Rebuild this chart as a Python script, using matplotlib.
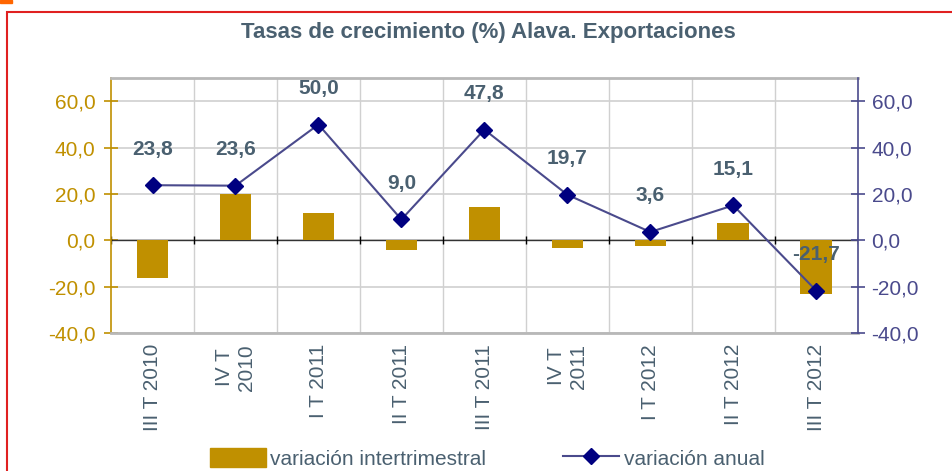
import matplotlib.pyplot as plt
import matplotlib.patches as mpatches
from matplotlib.lines import Line2D
import numpy as np

plt.rcParams['font.family'] = ['Liberation Sans', 'DejaVu Sans']

# datos
trimestres = ["III T 2010", "IV T\n2010", "I T 2011", "II T 2011", "III T 2011",
              "IV T\n2011", "I T 2012", "II T 2012", "III T 2012"]
var_intertrimestral = [-16.3, 20.2, 12.0, -4.3, 14.2, -3.3, -2.3, 7.3, -23.1]
var_anual = [23.8, 23.6, 50.0, 9.0, 47.8, 19.7, 3.6, 15.1, -21.7]
yticks = [-40, -20, 0, 20, 40, 60]

oro = '#c09000'
azul = '#4a4a8c'
marino = '#000080'
gris_texto = '#4a6070'

x = np.arange(len(trimestres))
fronteras = np.arange(len(trimestres) + 1) - 0.5

fig = plt.figure(figsize=(9.53, 4.71), dpi=100)
ax = fig.add_axes([0.1165, 0.293, 0.7835, 0.541])
ax2 = ax.twinx()

# rejilla vertical entre trimestres y marcas sobre el cero
for f in fronteras[1:-1]:
    ax.axvline(f, color='#d0d0d0', lw=1, zorder=0)
ax.axhline(0, color='#333333', lw=1, zorder=1)
ax.vlines(fronteras, -1.7, 1.7, color='black', lw=1, zorder=1)

ax.bar(x, var_intertrimestral, width=0.38, color=oro, zorder=2)
ax.set_xlim(-0.5, len(trimestres) - 0.5)
ax.set_ylim(-40, 70)
ax2.set_ylim(-40, 70)

ax2.plot(x, var_anual, color=azul, lw=1.5, marker='D', ms=8,
         mfc=marino, mec=marino, zorder=3)
for xi, v in zip(x, var_anual):
    ax2.annotate(f"{v:.1f}".replace('.', ','), (xi, v), xytext=(0, 26),
                 textcoords='offset points', ha='center', va='center',
                 fontsize=15, fontweight='bold', color=gris_texto)

# ejes
ax.set_yticks(yticks)
ax.set_yticklabels([f"{v:.1f}".replace('.', ',') for v in yticks])
ax2.set_yticks(yticks)
ax2.set_yticklabels([f"{v:.1f}".replace('.', ',') for v in yticks])
ax.tick_params(axis='y', colors=oro, labelsize=15, direction='inout',
               length=10, width=1.2, pad=6)
ax2.tick_params(axis='y', colors=azul, labelsize=15, direction='inout',
                length=10, width=1.2, pad=5)
ax.grid(axis='y', color='#d0d0d0', lw=1.2, zorder=0)
ax.set_axisbelow(True)

ax.set_xticks(x)
ax.set_xticklabels(trimestres, rotation=90, fontsize=15, color=gris_texto)
ax.tick_params(axis='x', length=0, pad=8)

for s in ['top', 'bottom']:
    ax.spines[s].set_color('#b8b8b8')
    ax.spines[s].set_linewidth(2)
ax.spines['left'].set_color(oro)
ax.spines['left'].set_linewidth(1.2)
ax.spines['right'].set_visible(False)
ax2.spines['left'].set_visible(False)
ax2.spines['bottom'].set_visible(False)
ax2.spines['top'].set_visible(False)
ax2.spines['right'].set_color(azul)
ax2.spines['right'].set_linewidth(1.2)

fig.text(0.512, 0.932, "Tasas de crecimiento (%) Alava. Exportaciones",
         ha='center', va='center', fontsize=16, fontweight='bold', color=gris_texto)

# leyenda
h1 = mpatches.Patch(color=oro, label='variación intertrimestral')
h2 = Line2D([], [], color=azul, lw=1.5, marker='D', ms=8, mfc=marino, mec=marino,
            label='variación anual')
fig.legend(handles=[h1, h2], loc='center', bbox_to_anchor=(0.511, 0.027),
           ncol=2, frameon=False, fontsize=15, handlelength=2.7, handleheight=1.0,
           handletextpad=0.2, columnspacing=3.7, labelcolor=gris_texto)

# marco
fig.add_artist(mpatches.Rectangle((0.0075, -0.05), 1.2, 1.0245,
                                  transform=fig.transFigure, fill=False,
                                  edgecolor='#e02020', lw=1.5))
fig.add_artist(mpatches.Rectangle((0, 0.994), 0.013, 0.006,
                                  transform=fig.transFigure, color='#ff6600'))

fig.savefig("out.png", dpi=100)
